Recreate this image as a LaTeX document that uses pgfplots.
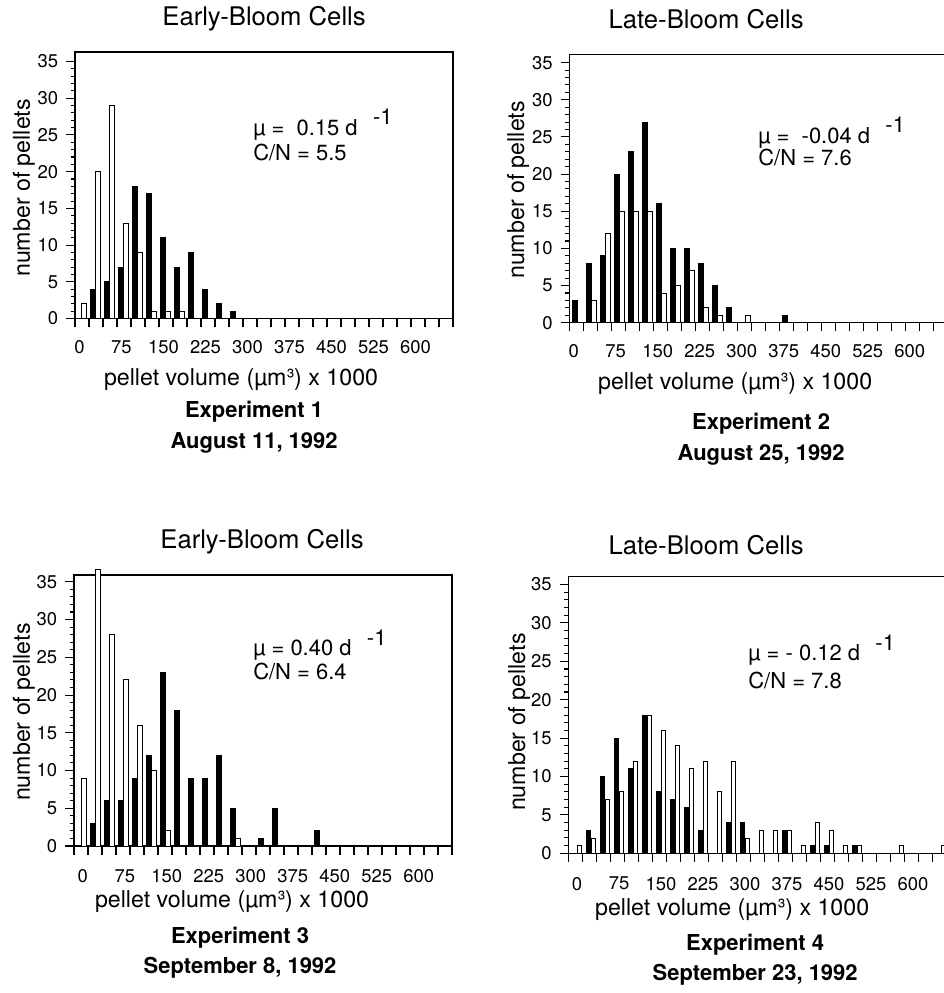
\documentclass[border=0pt]{standalone}
\usepackage{pgfplots}
\usepackage{pgfplotstable}
\usepackage{fontspec}
\setmainfont{TeX Gyre Heros}
\pgfplotsset{compat=1.18}

% bins of 25 (x 1000 um^3): black and white bar counts
\pgfplotstableread{
bin black white
0   0  2
25  4  20
50  5  29
75  7  13
100 18 9
125 17 1
150 11 1
175 7  1
200 9  0
225 4  0
250 2  0
275 1  0
}\dataA
\pgfplotstableread{
bin black white
0   3  0
25  8  3
50  9  12
75  20 15
100 23 15
125 27 15
150 16 4
175 10 5
200 10 7
225 8  2
250 5  1
275 2  0
300 0  1
375 1  0
}\dataB
\pgfplotstableread{
bin black white
0   0  9
25  3  36.6
50  6  28
75  6  22
100 9  16
125 12 10
150 23 2
175 18 0
200 9  0
225 9  0
250 12 0
275 5  1
325 1  0
350 5  0
425 2  0
}\dataC
\pgfplotstableread{
bin black white
0   0  1
25  3  2
50  10 7
75  15 8
100 11 12
125 18 18
150 8  16
175 7  14
200 6  11
225 3  12
250 0  8
275 4  12
300 4  2
325 0  3
350 0  3
375 3  3
400 0  1
425 1  4
450 1  3
475 0  1
500 1  1
575 0  1
650 0  1
}\dataD

\newcommand\tf{\fontsize{14.6}{17}\selectfont}
\newcommand\lf{\fontsize{13.2}{15}\selectfont}
\newcommand\capf{\fontsize{12.5}{14}\selectfont\bfseries}
\newcommand\af{\fontsize{12.5}{14}\selectfont}

\pgfplotsset{
  panel/.style={
    scale only axis, width=7.56cm, anchor=south west,
    xmin=0, xmax=675, ymin=0,
    xtick={0,25,...,675},
    xticklabels={0,,,75,,,150,,,225,,,300,,,375,,,450,,,525,,,600,,,},
    ytick={0,5,...,35}, minor y tick num=4,
    tick align=outside, tick pos=left,
    major tick length=5pt, minor tick length=2.5pt,
    axis line style={line width=0.6pt},
    every tick/.style={black, line width=0.6pt},
    tick label style={font=\fontsize{10.5}{12}\selectfont},
    xticklabel style={yshift=-4pt, xshift=2.5pt},
    yticklabel style={xshift=-1pt},
    /pgf/number format/assume math mode=true,
  },
  blk/.style={ybar, bar width=8.5, fill=black, draw=black, line width=0.5pt},
  wht/.style={ybar, bar width=8.5, fill=white, draw=black, line width=0.5pt},
}

\begin{document}
\begin{tikzpicture}
\path[use as bounding box] (0,0) rectangle (18.88cm,-19.86cm);
\clip (0,0) rectangle (18.88cm,-19.86cm);

\begin{axis}[panel, at={(1.5cm,-6.37cm)}, height=5.33cm, ymax=36.3]
  \addplot[blk] table[x expr=\thisrow{bin}+7, y=black] {\dataA};
  \addplot[wht] table[x expr=\thisrow{bin}+16, y=white] {\dataA};
\end{axis}

\begin{axis}[panel, at={(11.386cm,-6.454cm)}, height=5.364cm, ymax=36.1]
  \addplot[blk] table[x expr=\thisrow{bin}+10, y=black] {\dataB};
  \addplot[wht] table[x expr=\thisrow{bin}+19, y=white] {\dataB};
\end{axis}

\begin{axis}[panel, at={(1.48cm,-16.92cm)}, height=5.42cm, ymax=35.9, clip=false,
  xticklabel style={yshift=-1pt, xshift=2.5pt}]
  \addplot[blk] table[x expr=\thisrow{bin}+9, y=black] {\dataC};
  \addplot[wht] table[x expr=\thisrow{bin}+18, y=white] {\dataC};
\end{axis}

\begin{axis}[panel, at={(11.366cm,-17.066cm)}, height=5.53cm, ymax=36,
  xticklabel style={yshift=-1pt, xshift=2.5pt}]
  \addplot[blk] table[x expr=\thisrow{bin}+11, y=black] {\dataD};
  \addplot[wht] table[x expr=\thisrow{bin}+20, y=white] {\dataD};
\end{axis}

\begin{scope}[x=0.02cm, y=-0.02cm]
  % titles
  \node[font=\tf] at (264,19) {Early-Bloom Cells};
  \node[font=\tf] at (706,19) {Late-Bloom Cells};
  \node[font=\tf] at (262,542) {Early-Bloom Cells};
  \node[font=\tf] at (706,545) {Late-Bloom Cells};
  % y labels
  \node[font=\lf, rotate=90] at (24,188) {number of pellets};
  \node[font=\lf, rotate=90] at (518,190) {number of pellets};
  \node[font=\lf, rotate=90] at (24,712) {number of pellets};
  \node[font=\lf, rotate=90] at (519,722) {number of pellets};
  % x labels
  \node[font=\lf] at (241,380) {pellet volume (µm³) x 1000};
  \node[font=\lf] at (735,384) {pellet volume (µm³) x 1000};
  \node[font=\lf] at (232,901) {pellet volume (µm³) x 1000};
  \node[font=\lf] at (732,909) {pellet volume (µm³) x 1000};
  % experiment captions
  \node[font=\capf] at (254,412) {Experiment 1};
  \node[font=\capf] at (254,443) {August 11, 1992};
  \node[font=\capf] at (761,424) {Experiment 2};
  \node[font=\capf] at (761,455) {August 25, 1992};
  \node[font=\capf] at (240,938) {Experiment 3};
  \node[font=\capf] at (240,968) {September 8, 1992};
  \node[font=\capf] at (755,945) {Experiment 4};
  \node[font=\capf] at (755,975) {September 23, 1992};
  % growth rate and C/N
  \node[font=\af, anchor=west] at (247,125) {µ = \;0.15 d\hspace{0.7em}\raisebox{0.5em}{-1}};
  \node[font=\af, anchor=west] at (247,152) {C/N = 5.5};
  \node[font=\af, anchor=west] at (752,133) {µ = \;-0.04 d\hspace{0.7em}\raisebox{0.5em}{-1}};
  \node[font=\af, anchor=west] at (752,157) {C/N = 7.6};
  \node[font=\af, anchor=west] at (247,645) {µ = 0.40 d\hspace{0.7em}\raisebox{0.5em}{-1}};
  \node[font=\af, anchor=west] at (247,671) {C/N = 6.4};
  \node[font=\af, anchor=west] at (742,650) {µ = - 0.12 d\hspace{0.7em}\raisebox{0.5em}{-1}};
  \node[font=\af, anchor=west] at (742,680) {C/N = 7.8};
\end{scope}
\end{tikzpicture}
\end{document}
